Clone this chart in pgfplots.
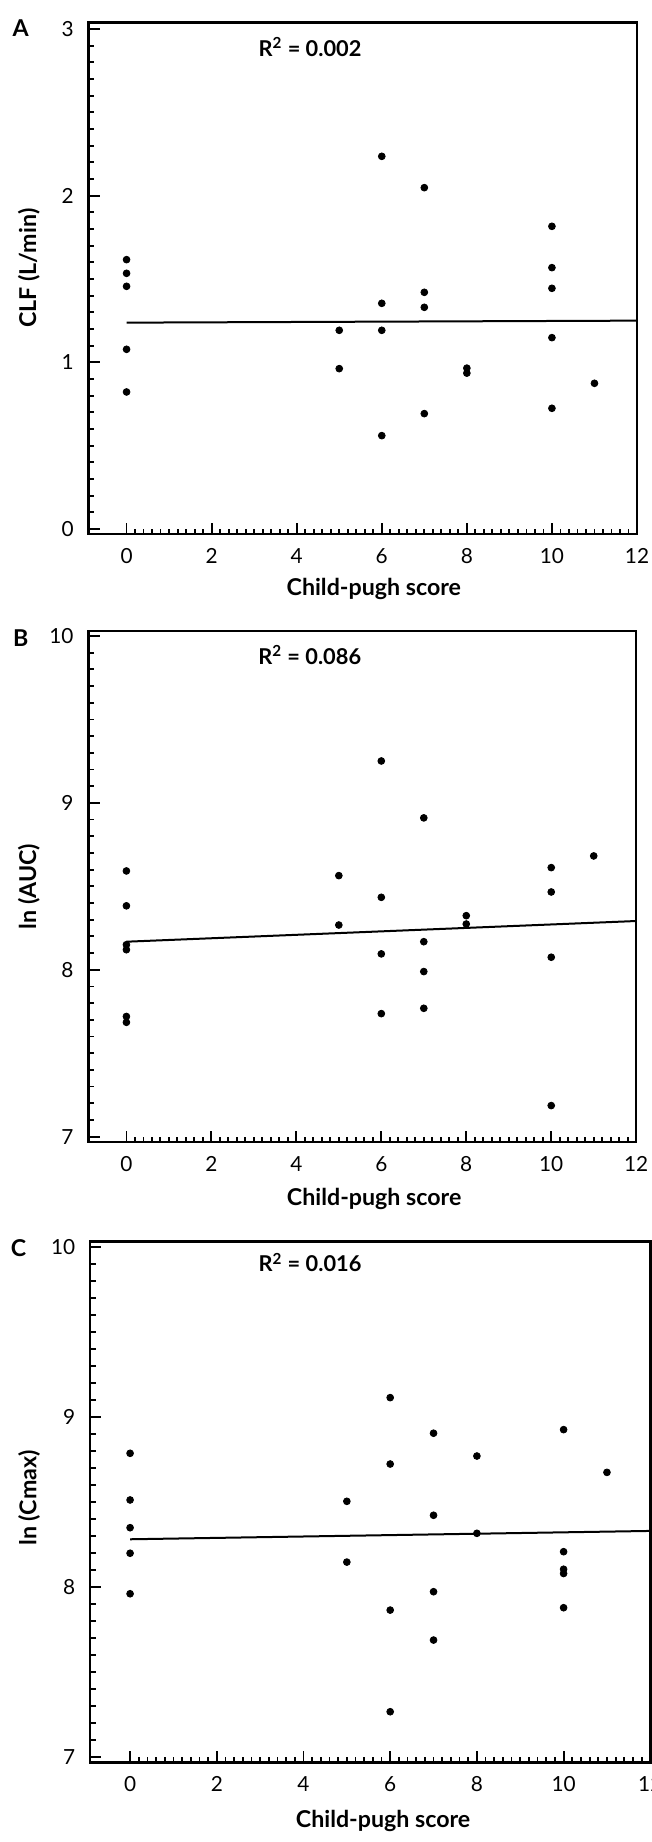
\documentclass[border=0pt]{standalone}
\usepackage{fontspec}
\setmainfont{Lato}
\usepackage{pgfplots}
\pgfplotsset{compat=1.18}

\pgfplotsset{
  cpstyle/.style={
    scale only axis,
    axis line style={line width=1.2pt},
    tick align=inside,
    tick pos=left,
    major tick length=5.5pt,
    minor tick length=2.8pt,
    every tick/.append style={line width=0.9pt, black},
    xtick={0,2,4,6,8,10,12},
    minor xtick={0.2,0.4,0.6,0.8,1.0,1.2,1.4,1.6,1.8,2.2,2.4,2.6,2.8,3.0,3.2,3.4,3.6,3.8,4.2,4.4,4.6,4.8,5.0,5.2,5.4,5.6,5.8,6.2,6.4,6.6,6.8,7.0,7.2,7.4,7.6,7.8,8.2,8.4,8.6,8.8,9.0,9.2,9.4,9.6,9.8,10.2,10.4,10.6,10.8,11.0,11.2,11.4,11.6,11.8},
    xmax=12,
    clip=false,
    tick label style={font=\fontsize{10.4}{12}\selectfont},
    /pgf/number format/assume math mode=true,
    yticklabel style={xshift=-4pt},
    xticklabel style={yshift=-3.5pt},
    label style={font=\fontsize{11.6}{14}\selectfont\bfseries},
    xlabel={Child-pugh score},
  },
  ptstyle/.style={only marks, mark=*, mark size=1.7pt, black},
  regstyle/.style={no marks, line width=1pt, black},
}

\begin{document}
\begin{tikzpicture}
\useasboundingbox (0,0) rectangle (326pt,921pt);

% Panel A
\begin{axis}[cpstyle,
  at={(44.35pt,653.85pt)}, anchor=south west,
  width=274.15pt, height=255.8pt,
  xmin=-0.89, ymin=-0.032, ymax=3.038,
  ytick={0,1,2,3},
  minor ytick={0.1,0.2,0.3,0.4,0.5,0.6,0.7,0.8,0.9,1.1,1.2,1.3,1.4,1.5,1.6,1.7,1.8,1.9,2.1,2.2,2.3,2.4,2.5,2.6,2.7,2.8,2.9},
  ylabel={CLF (L/min)},
  ylabel style={at={(axis description cs:-0.109,0.52)}, anchor=center},
  xlabel style={at={(axis description cs:0.52,-0.106)}, anchor=center},
]
\addplot[ptstyle] coordinates {
(0,1.616)(0,1.534)(0,1.456)(0,1.078)(0,0.822)
(5,1.192)(5,0.962)
(6,2.236)(6,1.354)(6,1.192)(6,0.560)
(7,2.048)(7,1.420)(7,1.330)(7,0.692)
(8,0.965)(8,0.935)
(10,1.816)(10,1.568)(10,1.444)(10,1.148)(10,0.724)
(11,0.874)
};
\addplot[regstyle] coordinates {(0,1.238) (12,1.250)};
\node[anchor=west, font=\fontsize{10.9}{13}\selectfont\bfseries] at (axis description cs:0.297,0.9525) {R\textsuperscript{2} = 0.002};
\node[anchor=center, font=\fontsize{11.6}{14}\selectfont\bfseries] at (axis description cs:-0.124,0.989) {A};
\end{axis}

% Panel B
\begin{axis}[cpstyle,
  at={(44.3pt,349.85pt)}, anchor=south west,
  width=273.8pt, height=255.65pt,
  xmin=-0.89, ymin=6.966, ymax=10.03,
  ytick={7,8,9,10},
  minor ytick={7.1,7.2,7.3,7.4,7.5,7.6,7.7,7.8,7.9,8.1,8.2,8.3,8.4,8.5,8.6,8.7,8.8,8.9,9.1,9.2,9.3,9.4,9.5,9.6,9.7,9.8,9.9},
  ylabel={ln (AUC)},
  ylabel style={at={(axis description cs:-0.109,0.5)}, anchor=center},
  xlabel style={at={(axis description cs:0.5215,-0.111)}, anchor=center},
]
\addplot[ptstyle] coordinates {
(0,8.592)(0,8.383)(0,8.150)(0,8.120)(0,7.720)(0,7.685)
(5,8.564)(5,8.268)
(6,9.251)(6,8.434)(6,8.095)(6,7.737)
(7,8.910)(7,8.168)(7,7.989)(7,7.769)
(8,8.324)(8,8.274)
(10,8.612)(10,8.466)(10,8.075)(10,7.186)
(11,8.682)
};
\addplot[regstyle] coordinates {(0,8.168) (12,8.292)};
\node[anchor=west, font=\fontsize{10.9}{13}\selectfont\bfseries] at (axis description cs:0.297,0.953) {R\textsuperscript{2} = 0.086};
\node[anchor=center, font=\fontsize{11.6}{14}\selectfont\bfseries] at (axis description cs:-0.124,0.986) {B};
\end{axis}

% Panel C
\begin{axis}[cpstyle,
  at={(45.1pt,39.85pt)}, anchor=south west,
  width=280.05pt, height=260.3pt,
  xmin=-0.92, ymin=6.971, ymax=10.029,
  ytick={7,8,9,10},
  minor ytick={7.1,7.2,7.3,7.4,7.5,7.6,7.7,7.8,7.9,8.1,8.2,8.3,8.4,8.5,8.6,8.7,8.8,8.9,9.1,9.2,9.3,9.4,9.5,9.6,9.7,9.8,9.9},
  ylabel={ln (Cmax)},
  ylabel style={at={(axis description cs:-0.109,0.508)}, anchor=center},
  xlabel style={at={(axis description cs:0.523,-0.112)}, anchor=center},
]
\addplot[ptstyle] coordinates {
(0,8.786)(0,8.512)(0,8.349)(0,8.199)(0,7.961)
(5,8.504)(5,8.147)
(6,9.113)(6,8.723)(6,7.865)(6,7.268)
(7,8.904)(7,8.422)(7,7.973)(7,7.689)
(8,8.770)(8,8.316)
(10,8.925)(10,8.208)(10,8.105)(10,8.080)(10,7.879)
(11,8.674)
};
\addplot[regstyle] coordinates {(0,8.281) (12,8.330)};
\node[anchor=west, font=\fontsize{10.9}{13}\selectfont\bfseries] at (axis description cs:0.288,0.96) {R\textsuperscript{2} = 0.016};
\node[anchor=center, font=\fontsize{11.6}{14}\selectfont\bfseries] at (axis description cs:-0.128,0.988) {C};
\end{axis}
\end{tikzpicture}
\end{document}
